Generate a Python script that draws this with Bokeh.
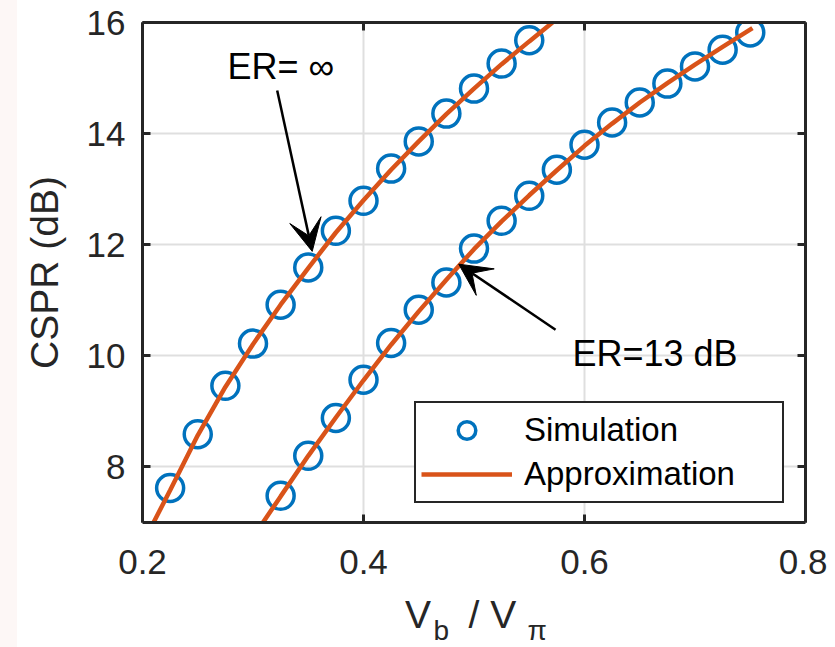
from bokeh.plotting import figure
from bokeh.models import (FixedTicker, LinearAxis, Range1d, Label, Arrow, VeeHead,
                          Legend, LegendItem, CustomJSTickFormatter, Div)
from bokeh.layouts import row, column
from bokeh.embed import file_html
from bokeh.resources import INLINE
from bokeh.core.properties import value

# ---------------- data ----------------
x_ticks = [0.2, 0.4, 0.6, 0.8]
y_ticks = [8, 10, 12, 14, 16]

# Simulation, ER = infinity
sim_x_inf = [0.225, 0.25, 0.275, 0.3, 0.325, 0.35, 0.375, 0.4, 0.425, 0.45, 0.475, 0.5, 0.525, 0.55]
sim_y_inf = [7.62, 8.59, 9.46, 10.22, 10.92, 11.59, 12.25, 12.79, 13.37, 13.86, 14.36, 14.81, 15.26, 15.68]

# Simulation, ER = 13 dB
sim_x_13 = [0.325, 0.35, 0.375, 0.4, 0.425, 0.45, 0.475, 0.5, 0.525, 0.55, 0.575, 0.6,
            0.625, 0.65, 0.675, 0.7, 0.725, 0.75]
sim_y_13 = [7.48, 8.20, 8.88, 9.57, 10.23, 10.83, 11.32, 11.93, 12.43, 12.88, 13.35, 13.80,
            14.20, 14.56, 14.90, 15.21, 15.51, 15.82]

# Approximation curves
app_x_inf = [0.21, 0.225, 0.25, 0.275, 0.3, 0.325, 0.35, 0.375, 0.4, 0.425, 0.45, 0.475,
             0.5, 0.525, 0.55, 0.571]
app_y_inf = [7.0, 7.58, 8.57, 9.44, 10.21, 10.92, 11.58, 12.22, 12.8, 13.35, 13.86, 14.35,
             14.81, 15.25, 15.66, 16.0]

app_x_13 = [0.309, 0.325, 0.35, 0.375, 0.4, 0.425, 0.45, 0.475, 0.5, 0.525, 0.55, 0.575,
            0.6, 0.625, 0.65, 0.675, 0.7, 0.725, 0.752]
app_y_13 = [7.0, 7.47, 8.2, 8.89, 9.56, 10.2, 10.8, 11.37, 11.92, 12.42, 12.89, 13.34,
            13.78, 14.18, 14.56, 14.91, 15.24, 15.56, 15.9]

# x-axis label pieces (V_b / V_pi)
xlabel_main = ["V", "/ V"]
xlabel_sub = ["b", "π"]

FONT = "Liberation Sans"
BLUE = "#0072BD"
ORANGE = "#D95319"
AX = "#262626"

STRIP = 17
p = figure(frame_width=663, frame_height=500, output_backend="svg", toolbar_location=None,
           title=None,
           x_range=Range1d(0.2, 0.8), y_range=Range1d(7, 16),
           min_border_left=142 - STRIP, min_border_right=22, min_border_top=22, min_border_bottom=70,
           background_fill_color="white", border_fill_color="white")
p.outline_line_color = None

for ax in [p.xaxis[0], p.yaxis[0]]:
    ax.major_tick_in = 8
    ax.major_tick_out = 0
    ax.minor_tick_line_color = None
    ax.axis_line_width = 3
    ax.axis_line_color = AX
    ax.major_tick_line_width = 3
    ax.major_tick_line_color = AX
    ax.major_label_text_font = FONT
    ax.major_label_text_font_size = "35px"
    ax.major_label_text_color = AX
p.xaxis.major_label_standoff = 27
p.yaxis.major_label_standoff = 17
p.xaxis.ticker = FixedTicker(ticks=x_ticks)
p.yaxis.ticker = FixedTicker(ticks=y_ticks)

p.yaxis.axis_label = "CSPR (dB)"
p.yaxis.axis_label_text_font = FONT
p.yaxis.axis_label_text_font_size = "39px"
p.yaxis.axis_label_text_font_style = "normal"
p.yaxis.axis_label_text_color = AX
p.yaxis.axis_label_standoff = 18

for side, ticks in [("above", x_ticks), ("right", y_ticks)]:
    a = LinearAxis(ticker=FixedTicker(ticks=ticks),
                   formatter=CustomJSTickFormatter(code="return ''"),
                   major_tick_in=8, major_tick_out=0, minor_tick_line_color=None,
                   axis_line_width=3, axis_line_color=AX,
                   major_tick_line_width=3, major_tick_line_color=AX,
                   major_label_text_font_size="1px", major_label_standoff=0)
    p.add_layout(a, side)

p.xgrid.ticker = FixedTicker(ticks=x_ticks)
p.ygrid.ticker = FixedTicker(ticks=y_ticks)
for g in [p.xgrid[0], p.ygrid[0]]:
    g.grid_line_color = "#dfdfdf"
    g.grid_line_width = 2

r_sim1 = p.scatter(sim_x_inf, sim_y_inf, marker="circle", size=27, fill_color=None,
                   line_color=BLUE, line_width=3.5)
r_sim2 = p.scatter(sim_x_13, sim_y_13, marker="circle", size=27, fill_color=None,
                   line_color=BLUE, line_width=3.5)
r_app1 = p.line(app_x_inf, app_y_inf, line_color=ORANGE, line_width=4.5)
r_app2 = p.line(app_x_13, app_y_13, line_color=ORANGE, line_width=4.5)

legend = Legend(items=[LegendItem(label=value("Simulation"), renderers=[r_sim1]),
                       LegendItem(label=value("Approximation"), renderers=[r_app1])],
                location=(272, 19), orientation="vertical",
                glyph_width=91, glyph_height=44, spacing=0, padding=5, margin=0,
                label_standoff=12, label_width=253, label_height=30,
                label_text_font=FONT, label_text_font_size="33px", label_text_color="black",
                border_line_color=AX, border_line_width=2, border_line_alpha=1.0,
                background_fill_color="white", background_fill_alpha=1)
p.add_layout(legend)

# annotations
p.add_layout(Label(x=0.277, y=15.207, text="ER= ∞", text_font=FONT, text_font_size="36px",
                   text_color="black", text_baseline="middle"))
p.add_layout(Arrow(x_start=0.3219, y_start=14.775, x_end=0.3536, y_end=11.88,
                   line_width=2.5, line_color="black",
                   end=VeeHead(size=32, fill_color="black", line_color="black")))
p.add_layout(Label(x=0.5891, y=10.036, text="ER=13 dB", text_font=FONT, text_font_size="36px",
                   text_color="black", text_baseline="middle"))
p.add_layout(Arrow(x_start=0.5738, y_start=10.47, x_end=0.4862, y_end=11.65,
                   line_width=2.5, line_color="black",
                   end=VeeHead(size=32, fill_color="black", line_color="black")))

# strip under the frame holding the x-axis label (y measured in px up from window bottom)
p2 = figure(frame_width=663, frame_height=55, output_backend="svg", toolbar_location=None,
            title=None,
            x_range=p.x_range, y_range=Range1d(0, 55),
            min_border_left=142 - STRIP, min_border_right=22, min_border_top=0, min_border_bottom=0,
            background_fill_color="white", border_fill_color="white")
p2.outline_line_color = None
p2.grid.visible = False
p2.xaxis.visible = False
p2.yaxis.visible = False
p2.text(x=[0.4375, 0.495], y=[33, 33], text=xlabel_main,
        text_font=value(FONT), text_font_size=value("39px"), text_color=AX,
        text_baseline="middle", text_align="left")
p2.text(x=[0.4633, 0.5484], y=[17, 17], text=xlabel_sub,
        text_font=value(FONT), text_font_size=value("28px"), text_color=AX,
        text_baseline="middle", text_align="left")

strip = Div(width=STRIP, height=647, margin=0, styles={"background-color": "#fdf7f6"})
layout = row(strip, column(p, p2, spacing=0), spacing=0)

open("out.html", "w").write(file_html(layout, INLINE))
